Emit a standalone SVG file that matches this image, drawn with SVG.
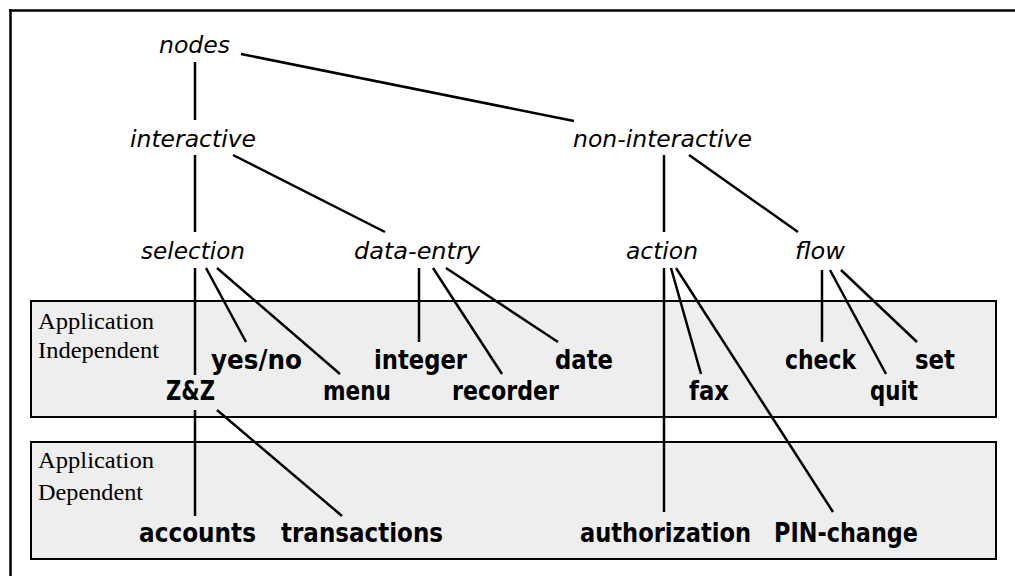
<svg xmlns="http://www.w3.org/2000/svg" width="1015" height="576" viewBox="0 0 1015 576">
<style>
.it{font-family:"DejaVu Sans",sans-serif;font-style:italic;font-size:23px;fill:#000}
.bd{font-family:"DejaVu Sans",sans-serif;font-weight:bold;font-size:26px;fill:#000}
.sf{font-family:"Liberation Serif",serif;font-size:24px;fill:#000}
.box{fill:#eeeeee;stroke:#000;stroke-width:2}
.edge{stroke:#000;stroke-width:2.5;fill:none}
</style>
<rect x="0" y="0" width="1015" height="576" fill="#fff"/>
<g id="frame" stroke="#000" stroke-width="2.5" fill="none">
<line x1="9" y1="10.5" x2="1015" y2="10.5"/>
<line x1="10.5" y1="9" x2="10.5" y2="576"/>
</g>
<g id="region-independent">
<rect class="box" x="31" y="301" width="965" height="116"/>
<text class="sf" x="38" y="329" textLength="116" lengthAdjust="spacingAndGlyphs">Application</text>
<text class="sf" x="38" y="358" textLength="121" lengthAdjust="spacingAndGlyphs">Independent</text>
</g>
<g id="region-dependent">
<rect class="box" x="31" y="442" width="965" height="117"/>
<text class="sf" x="38" y="468" textLength="116" lengthAdjust="spacingAndGlyphs">Application</text>
<text class="sf" x="38" y="500" textLength="105" lengthAdjust="spacingAndGlyphs">Dependent</text>
</g>
<g id="connectors" class="edge">
<line x1="195" y1="62" x2="195" y2="120"/>
<line x1="241" y1="54" x2="574" y2="121"/>
<line x1="195" y1="155" x2="195" y2="232"/>
<line x1="233" y1="155" x2="385" y2="232"/>
<line x1="664" y1="155" x2="664" y2="232"/>
<line x1="689" y1="155" x2="798" y2="232"/>
<line x1="195" y1="268" x2="195" y2="375"/>
<line x1="206" y1="268" x2="246" y2="342"/>
<line x1="217" y1="268" x2="340" y2="374"/>
<line x1="419" y1="268" x2="419" y2="342"/>
<line x1="433" y1="268" x2="502" y2="374"/>
<line x1="446" y1="268" x2="558" y2="342"/>
<line x1="195" y1="410" x2="195" y2="516"/>
<line x1="217" y1="410" x2="342" y2="516"/>
<line x1="664" y1="268" x2="664" y2="512"/>
<line x1="671" y1="268" x2="701" y2="374"/>
<line x1="676" y1="268" x2="833" y2="512"/>
<line x1="822" y1="270" x2="822" y2="342"/>
<line x1="830" y1="270" x2="886" y2="374"/>
<line x1="841" y1="270" x2="917" y2="342"/>
</g>
<g id="n-nodes"><text class="it" x="159" y="53" textLength="71" lengthAdjust="spacingAndGlyphs">nodes</text></g>
<g id="n-interactive"><text class="it" x="130" y="147" textLength="126" lengthAdjust="spacingAndGlyphs">interactive</text></g>
<g id="n-non-interactive"><text class="it" x="573" y="147" textLength="179" lengthAdjust="spacingAndGlyphs">non-interactive</text></g>
<g id="n-selection"><text class="it" x="141" y="259" textLength="104" lengthAdjust="spacingAndGlyphs">selection</text></g>
<g id="n-data-entry"><text class="it" x="354" y="259" textLength="126" lengthAdjust="spacingAndGlyphs">data-entry</text></g>
<g id="n-action"><text class="it" x="626" y="259" textLength="72" lengthAdjust="spacingAndGlyphs">action</text></g>
<g id="n-flow"><text class="it" x="795" y="259" textLength="50" lengthAdjust="spacingAndGlyphs">flow</text></g>
<g id="n-yesno"><text class="bd" x="211" y="369" textLength="91" lengthAdjust="spacingAndGlyphs">yes/no</text></g>
<g id="n-integer"><text class="bd" x="374" y="369" textLength="93" lengthAdjust="spacingAndGlyphs">integer</text></g>
<g id="n-date"><text class="bd" x="555" y="369" textLength="58" lengthAdjust="spacingAndGlyphs">date</text></g>
<g id="n-check"><text class="bd" x="785" y="369" textLength="71" lengthAdjust="spacingAndGlyphs">check</text></g>
<g id="n-set"><text class="bd" x="915" y="369" textLength="40" lengthAdjust="spacingAndGlyphs">set</text></g>
<g id="n-zz"><text class="bd" x="166" y="400" textLength="49" lengthAdjust="spacingAndGlyphs">Z&amp;Z</text></g>
<g id="n-menu"><text class="bd" x="323" y="400" textLength="68" lengthAdjust="spacingAndGlyphs">menu</text></g>
<g id="n-recorder"><text class="bd" x="452" y="400" textLength="107" lengthAdjust="spacingAndGlyphs">recorder</text></g>
<g id="n-fax"><text class="bd" x="689" y="400" textLength="40" lengthAdjust="spacingAndGlyphs">fax</text></g>
<g id="n-quit"><text class="bd" x="870" y="400" textLength="48" lengthAdjust="spacingAndGlyphs">quit</text></g>
<g id="n-accounts"><text class="bd" x="139" y="542" textLength="117" lengthAdjust="spacingAndGlyphs">accounts</text></g>
<g id="n-transactions"><text class="bd" x="281" y="542" textLength="162" lengthAdjust="spacingAndGlyphs">transactions</text></g>
<g id="n-authorization"><text class="bd" x="580" y="542" textLength="171" lengthAdjust="spacingAndGlyphs">authorization</text></g>
<g id="n-pin-change"><text class="bd" x="774" y="542" textLength="144" lengthAdjust="spacingAndGlyphs">PIN-change</text></g>
</svg>
